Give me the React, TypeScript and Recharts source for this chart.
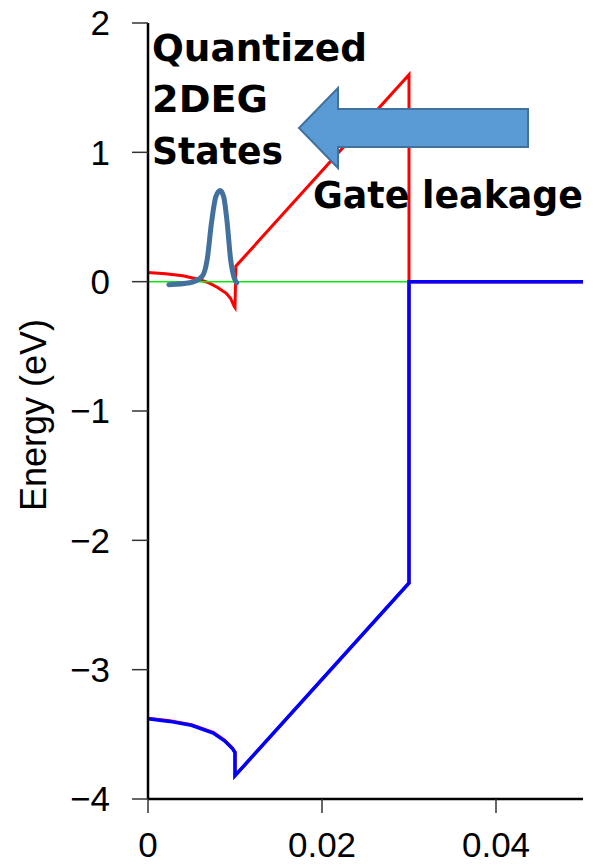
import React from 'react';
import { LineChart, Line, XAxis, YAxis } from 'recharts';

// band edges across the barrier / channel (x in um, energy in eV)
const ecX = [0, 0.002, 0.004, 0.006, 0.007, 0.008, 0.009, 0.0095, 0.0099, 0.01, 0.0101, 0.03, 0.03, 0.05];
const ecY = [0.07, 0.062, 0.045, 0.015, -0.01, -0.045, -0.09, -0.13, -0.19, -0.2, 0.12, 1.6, 0, 0];

const evX = [0, 0.0025, 0.005, 0.0075, 0.0088, 0.0097, 0.01, 0.01, 0.03, 0.03, 0.05];
const evY = [-3.38, -3.4, -3.43, -3.49, -3.55, -3.61, -3.64, -3.82, -2.33, 0, 0];
const evRedY = [-3.375, -3.395, -3.425, -3.485, -3.545, -3.605, -3.635, -3.82, -2.33, 0, 0];

const efX = [0, 0.05];
const efY = [0, 0];

// 2DEG subband wavefunction
const psiX = [0.0024, 0.0048, 0.0062, 0.0068, 0.0073, 0.0078, 0.0083, 0.0087, 0.0091, 0.0095, 0.0099, 0.0102];
const psiY = [-0.023, -0.008, 0.039, 0.17, 0.456, 0.657, 0.704, 0.657, 0.456, 0.17, 0.031, -0.008];

const xTicks = [0, 0.02, 0.04];
const yTicks = [-4, -3, -2, -1, 0, 1, 2];

const zip = (xs: number[], ys: number[]) => xs.map((x, i) => ({ x, y: ys[i] }));

const ecData = zip(ecX, ecY);
const evData = zip(evX, evY);
const evRedData = zip(evX, evRedY);
const efData = zip(efX, efY);
const psiData = zip(psiX, psiY);

const tickFont = { fill: '#000', fontSize: 35, fontFamily: 'Liberation Sans, Arial, sans-serif' };
const axisLine = { stroke: '#000', strokeWidth: 2.5 };
const tickLine = { stroke: '#333', strokeWidth: 1.5 };
const boldFont = 'DejaVu Sans, Verdana, sans-serif';

export default function App() {
  return (
    <div style={{ position: 'absolute', left: 0, top: 0, width: 596, height: 866, background: '#fff' }}>
      <LineChart width={596} height={866} margin={{ top: 23, right: 13, bottom: 0, left: 0 }}>
        <XAxis
          xAxisId="b"
          type="number"
          dataKey="x"
          domain={[0, 0.05]}
          ticks={xTicks}
          height={67}
          tickSize={14}
          tickMargin={19}
          tick={tickFont}
          axisLine={axisLine}
          tickLine={tickLine}
          tickFormatter={(v) => String(v)}
        />
        <XAxis
          xAxisId="t"
          orientation="top"
          type="number"
          dataKey="x"
          domain={[0, 0.05]}
          ticks={xTicks}
          height={0}
          tickSize={16}
          tick={false}
          axisLine={axisLine}
          tickLine={tickLine}
        />
        <YAxis
          type="number"
          dataKey="y"
          domain={[-4, 2]}
          ticks={yTicks}
          width={148}
          tickSize={16}
          tickMargin={22}
          tick={tickFont}
          axisLine={axisLine}
          tickLine={tickLine}
          tickFormatter={(v) => String(v).replace('-', '\u2212')}
        />
        <Line xAxisId="b" data={ecData} dataKey="y" type="linear" stroke="#ff0000" strokeWidth={3} dot={false} isAnimationActive={false} />
        <Line xAxisId="b" data={evRedData} dataKey="y" type="linear" stroke="#ff0000" strokeWidth={3} dot={false} isAnimationActive={false} />
        <Line xAxisId="b" data={efData} dataKey="y" type="linear" stroke="#00ee00" strokeWidth={1.5} dot={false} isAnimationActive={false} />
        <Line xAxisId="b" data={evData} dataKey="y" type="linear" stroke="#0000ff" strokeWidth={3.5} dot={false} isAnimationActive={false} />
        <Line xAxisId="b" data={psiData} dataKey="y" type="monotone" stroke="#41719c" strokeWidth={5} strokeLinecap="round" dot={false} isAnimationActive={false} />
      </LineChart>
      <svg width={596} height={866} style={{ position: 'absolute', left: 0, top: 0, pointerEvents: 'none' }}>
        <text
          x={46}
          y={415}
          transform="rotate(-90 46 415)"
          textAnchor="middle"
          fontSize={36}
          fontFamily="Liberation Sans, Arial, sans-serif"
          fill="#000"
        >
          Energy (eV)
        </text>
        <polygon
          points="299,128 338,88 338,109 528,109 528,147 338,147 338,168"
          fill="#5b9bd5"
          stroke="#41719c"
          strokeWidth={2}
        />
        <g fontFamily={boldFont} fontWeight="bold" fontSize={37} fill="#000">
          <text x={152} y={61} textLength={215} lengthAdjust="spacingAndGlyphs">Quantized</text>
          <text x={152} y={112} textLength={116} lengthAdjust="spacingAndGlyphs">2DEG</text>
          <text x={152} y={164} textLength={131} lengthAdjust="spacingAndGlyphs">States</text>
          <text x={313} y={208} textLength={270} lengthAdjust="spacingAndGlyphs">Gate leakage</text>
        </g>
      </svg>
    </div>
  );
}
